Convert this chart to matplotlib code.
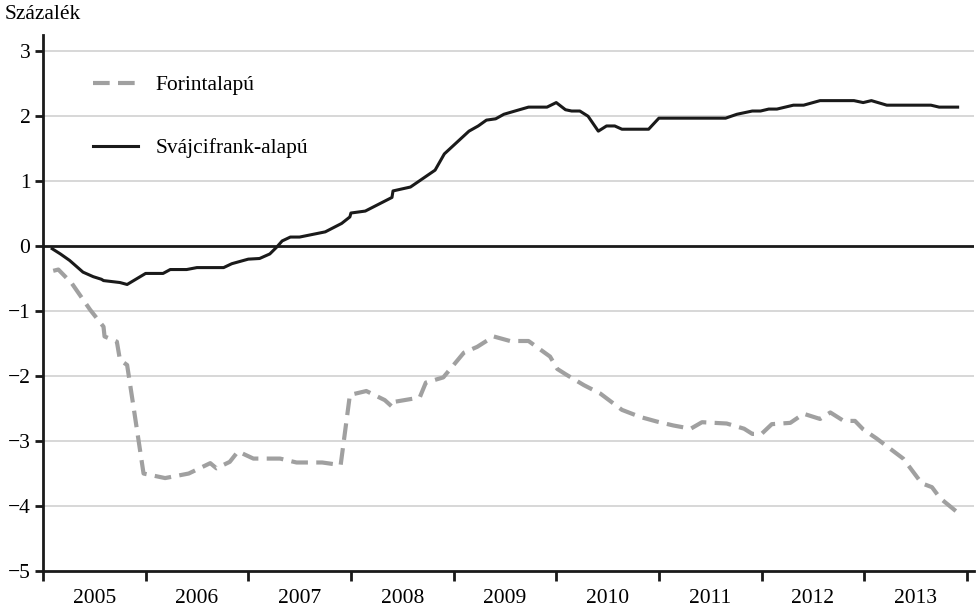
import matplotlib
matplotlib.use("Agg")
import matplotlib.pyplot as plt
from matplotlib.ticker import FixedLocator, NullFormatter

plt.rcParams['font.family'] = ['Liberation Serif', 'DejaVu Serif']

# Svájcifrank-alapú (decimális év, százalék)
chf_t = [2005.09, 2005.17, 2005.26, 2005.39, 2005.49, 2005.57, 2005.59, 2005.75, 2005.82,
         2006.00, 2006.17, 2006.24, 2006.40, 2006.50, 2006.76, 2006.84, 2007.00, 2007.11,
         2007.21, 2007.28, 2007.33, 2007.41, 2007.50, 2007.75, 2007.91, 2007.99, 2008.00,
         2008.14, 2008.40, 2008.41, 2008.58, 2008.82, 2008.91, 2009.15, 2009.24, 2009.32,
         2009.41, 2009.49, 2009.62, 2009.73, 2009.91, 2010.00, 2010.09, 2010.15, 2010.23,
         2010.31, 2010.41, 2010.49, 2010.57, 2010.64, 2010.90, 2011.00, 2011.65, 2011.76,
         2011.91, 2011.99, 2012.07, 2012.15, 2012.31, 2012.41, 2012.57, 2012.90, 2012.99,
         2013.07, 2013.22, 2013.65, 2013.73, 2013.91]
chf_v = [-0.04, -0.12, -0.22, -0.40, -0.47, -0.51, -0.53, -0.56, -0.59,
         -0.42, -0.42, -0.36, -0.36, -0.33, -0.33, -0.27, -0.20, -0.19,
         -0.12, -0.01, 0.08, 0.14, 0.14, 0.22, 0.35, 0.45, 0.51,
         0.54, 0.75, 0.85, 0.91, 1.17, 1.42, 1.77, 1.85, 1.94,
         1.96, 2.03, 2.09, 2.14, 2.14, 2.21, 2.10, 2.08, 2.08,
         2.00, 1.77, 1.85, 1.85, 1.80, 1.80, 1.97, 1.97, 2.03,
         2.08, 2.08, 2.11, 2.11, 2.17, 2.17, 2.24, 2.24, 2.21,
         2.24, 2.17, 2.17, 2.14, 2.14]

# Forintalapú
huf_t = [2005.10, 2005.15, 2005.28, 2005.46, 2005.54, 2005.59, 2005.60, 2005.72, 2005.75,
         2005.82, 2005.88, 2005.98, 2006.19, 2006.42, 2006.63, 2006.69, 2006.82, 2006.90,
         2007.05, 2007.31, 2007.47, 2007.72, 2007.90, 2007.99, 2008.15, 2008.33, 2008.40,
         2008.41, 2008.67, 2008.73, 2008.90, 2009.10, 2009.23, 2009.39, 2009.55, 2009.73,
         2009.94, 2010.01, 2010.10, 2010.27, 2010.43, 2010.64, 2010.82, 2010.98, 2011.14,
         2011.31, 2011.42, 2011.66, 2011.83, 2011.91, 2012.00, 2012.10, 2012.28, 2012.41,
         2012.57, 2012.67, 2012.80, 2012.91, 2012.99, 2013.12, 2013.38, 2013.56, 2013.66,
         2013.74, 2013.91]
huf_v = [-0.38, -0.36, -0.57, -0.98, -1.14, -1.24, -1.39, -1.47, -1.75,
         -1.83, -2.45, -3.50, -3.57, -3.50, -3.34, -3.42, -3.32, -3.16,
         -3.27, -3.27, -3.33, -3.33, -3.37, -2.29, -2.23, -2.37, -2.47,
         -2.40, -2.33, -2.10, -2.02, -1.64, -1.55, -1.39, -1.46, -1.46,
         -1.70, -1.89, -1.98, -2.14, -2.27, -2.52, -2.63, -2.70, -2.76,
         -2.81, -2.71, -2.73, -2.81, -2.89, -2.89, -2.74, -2.72, -2.58,
         -2.66, -2.56, -2.69, -2.69, -2.82, -2.96, -3.27, -3.65, -3.71,
         -3.88, -4.10]

years = [2005, 2006, 2007, 2008, 2009, 2010, 2011, 2012, 2013]

fs = 15.5

fig = plt.figure(figsize=(9.76, 6.11), dpi=100)
ax = fig.add_axes([0.044, 0.0655, 0.954, 0.8772])

ax.set_xlim(2005, 2014.07)
ax.set_ylim(-5, 3.25)

# vízszintes rácsvonalak
for y in range(-4, 4):
    if y != 0:
        ax.axhline(y, color='#d4d4d4', lw=1.3, zorder=1)
ax.axhline(0, color='#1a1a1a', lw=2, zorder=2)

ax.plot(huf_t, huf_v, color='#a0a0a0', lw=3, dashes=(4, 2), label='Forintalapú', zorder=3)
ax.plot(chf_t, chf_v, color='#1a1a1a', lw=2.2, label='Svájcifrank-alapú', zorder=4)

ax.spines['top'].set_visible(False)
ax.spines['right'].set_visible(False)
ax.spines['left'].set_linewidth(2)
ax.spines['bottom'].set_linewidth(2)
ax.spines['left'].set_color('#1a1a1a')
ax.spines['bottom'].set_color('#1a1a1a')

ax.set_yticks(range(-5, 4))
ax.set_yticklabels([str(v).replace('-', '\u2212') for v in range(-5, 4)])
ax.tick_params(axis='y', length=6, width=2, color='#1a1a1a', labelsize=fs, pad=3)

# évhatárokon jelölők, évszám középen
ax.xaxis.set_major_locator(FixedLocator([y for y in years] + [2014]))
ax.xaxis.set_major_formatter(NullFormatter())
ax.xaxis.set_minor_locator(FixedLocator([y + 0.5 for y in years]))
ax.set_xticklabels([str(y) for y in years], minor=True)
ax.tick_params(axis='x', which='major', length=7, width=2, color='#1a1a1a')
ax.tick_params(axis='x', which='minor', length=0, labelsize=fs, pad=13)

ax.legend(loc='upper left', bbox_to_anchor=(0.054, 0.925), frameon=False, fontsize=fs,
          handlelength=2.1, handletextpad=0.8, labelspacing=2.0, borderpad=0, borderaxespad=0)

fig.text(0.005, 0.976, 'Százalék', fontsize=fs, ha='left', va='center')

fig.savefig('out.png', dpi=100)
